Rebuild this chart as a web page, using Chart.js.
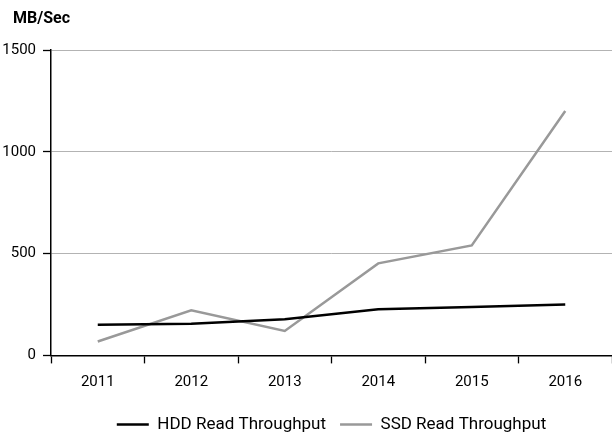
<!DOCTYPE html>
<html>
<head>
<meta charset="utf-8">
<script src="https://cdn.jsdelivr.net/npm/chart.js@4"></script>
<style>
html,body{margin:0;padding:0;background:#fff;}
#wrap{width:612px;height:434px;position:relative;}
</style>
</head>
<body>
<div id="wrap"><canvas id="c" width="612" height="434"></canvas></div>
<script>
const categories = ['2011','2012','2013','2014','2015','2016'];
const hddValues = [150, 156, 178, 227, 238, 250];
const ssdValues = [68, 222, 120, 452, 540, 1200];
const yTicks = [0, 500, 1000, 1500];
const seriesNames = ['HDD Read Throughput', 'SSD Read Throughput'];
const yTitle = 'MB/Sec';

const FONT = "Roboto, 'Liberation Sans', sans-serif";

const titlePlugin = {
  id: 'unitTitle',
  afterDraw(chart) {
    const ctx = chart.ctx;
    ctx.save();
    ctx.font = "bold 16px " + FONT;
    ctx.fillStyle = '#000';
    ctx.textAlign = 'left';
    ctx.textBaseline = 'middle';
    ctx.fillText(yTitle, 13, 19);
    ctx.restore();
  }
};

new Chart(document.getElementById('c'), {
  type: 'line',
  data: {
    labels: categories,
    datasets: [
      { label: seriesNames[0], data: hddValues, borderColor: '#000000', backgroundColor: '#000000', borderWidth: 2.5, pointRadius: 0, tension: 0 },
      { label: seriesNames[1], data: ssdValues, borderColor: '#999999', backgroundColor: '#999999', borderWidth: 2.5, pointRadius: 0, tension: 0 }
    ]
  },
  plugins: [titlePlugin],
  options: {
    responsive: false,
    animation: false,
    layout: { padding: { left: 0, right: 0, top: 50, bottom: -9 } },
    plugins: {
      title: { display: false },
      legend: {
        position: 'bottom',
        fullSize: false,
        labels: {
          color: '#000',
          font: { family: FONT, size: 17 },
          boxWidth: 32,
          boxHeight: 0,
          padding: 14
        }
      },
      tooltip: { enabled: false }
    },
    scales: {
      x: {
        offset: true,
        afterFit: (scale) => { scale.height = 46.6; },
        grid: { display: true, drawOnChartArea: false, offset: true, tickLength: 8, tickColor: '#000', tickWidth: 1.3 },
        border: { display: true, color: '#000', width: 1.5 },
        ticks: { color: '#000', font: { family: FONT, size: 15 }, padding: 10, maxRotation: 0 }
      },
      y: {
        min: 0,
        max: 1500,
        afterBuildTicks: (scale) => { scale.ticks = yTicks.map(v => ({ value: v })); },
        afterFit: (scale) => { scale.width = 51; },
        grid: { color: '#b3b3b3', lineWidth: 1, tickLength: 8, tickColor: '#000', tickWidth: 1.3 },
        border: { display: true, color: '#000', width: 1.5 },
        ticks: { color: '#000', font: { family: FONT, size: 15 }, padding: 7, callback: (v) => String(v) }
      }
    }
  }
});
</script>
</body>
</html>
